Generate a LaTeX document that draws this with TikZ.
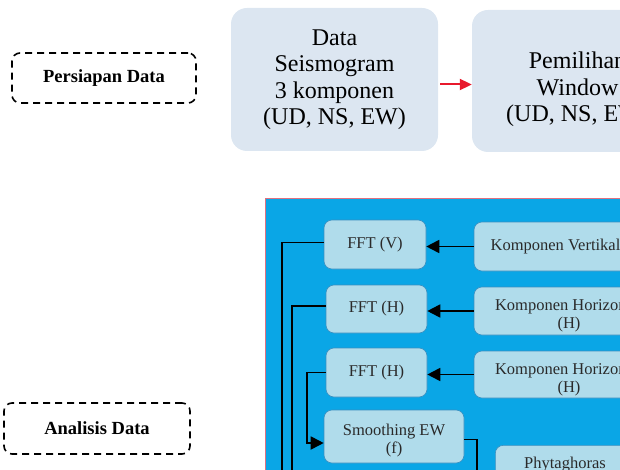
\documentclass[tikz,border=0pt]{standalone}
\usepackage{fontspec}
\setmainfont{Liberation Serif}
\usetikzlibrary{arrows.meta,calc}
\definecolor{softfill}{HTML}{DCE6F1}
\definecolor{bigblue}{HTML}{0AA6E6}
\definecolor{innerfill}{HTML}{B0DCEB}
\definecolor{innerline}{HTML}{3A8FC0}
\definecolor{bigline}{HTML}{E07080}
\definecolor{arrred}{HTML}{E8192C}
\definecolor{innertext}{HTML}{2A2A2A}
\newcommand\lowtext[2]{\raisebox{-#1}[\height][\depth]{\begin{tabular}{@{}c@{}}#2\end{tabular}}}
\begin{document}
\begin{tikzpicture}[x=1pt,y=-1pt,
  dashbox/.style={draw, line width=1.6pt, dash pattern=on 7pt off 5pt, rounded corners=8pt,
    inner sep=0pt, font=\fontsize{18.5}{20}\selectfont\bfseries},
  softbox/.style={fill=softfill, rounded corners=16pt, inner sep=0pt, align=center,
    font=\fontsize{24}{26.5}\selectfont},
  innerbox/.style={fill=innerfill, draw=innerline, line width=0.6pt, rounded corners=8pt,
    inner sep=0pt, align=center, text=innertext, font=\fontsize{16.5}{18}\selectfont},
  conn/.style={draw=black, line width=1.8pt},
  arr/.style={conn, -{Triangle[length=13pt,width=13pt]}},
  redarr/.style={draw=arrred, line width=2pt, -{Triangle[length=12pt,width=11pt]}}
]
\useasboundingbox (0,0) rectangle (620,470);
\clip (0,0) rectangle (620,470);

% upper row
\node[dashbox, minimum width=184pt, minimum height=50pt] (prep) at (104,78) {Persiapan Data};
\node[softbox, minimum width=207pt, minimum height=143pt] (data) at (334.5,79.5)
  {Data\\Seismogram\\3 komponen\\(UD, NS, EW)};
\node[softbox, minimum width=211pt, minimum height=142pt] (pem) at (577.5,81)
  {\lowtext{9pt}{Pemilihan\\Window\\(UD, NS, EW)}};
\coordinate (ra) at ($(data.east)+(2,5)$);
\draw[redarr] (ra) -- (ra -| pem.west);

% analysis frame
\node[dashbox, minimum width=186pt, minimum height=51pt] (anal) at (97,428.5) {Analisis Data};
\path[fill=bigblue, draw=bigline, line width=1pt] (265,199) rectangle (660,500);

\node[innerbox, minimum width=102pt, minimum height=49pt] (fftv) at (375,244.5) {FFT (V)};
\node[innerbox, minimum width=101pt, minimum height=48pt] (ffth1) at (376.5,309) {FFT (H)};
\node[innerbox, minimum width=101pt, minimum height=49pt] (ffth2) at (376.5,372.5) {FFT (H)};
\node[innerbox, minimum width=140pt, minimum height=53pt] (smooth) at (394,436.5) {\lowtext{4pt}{Smoothing EW\\(f)}};
\node[innerbox, minimum width=190pt, minimum height=49pt] (kv) at (569,246.5) {Komponen Vertikal (V)};
\node[innerbox, minimum width=190pt, minimum height=48pt] (kh1) at (569,311) {\lowtext{5pt}{Komponen Horizontal\\(H)}};
\node[innerbox, minimum width=190pt, minimum height=47pt] (kh2) at (569,374.5) {\lowtext{5pt}{Komponen Horizontal\\(H)}};
\node[innerbox, minimum width=140pt, minimum height=55pt, anchor=north west] (phy) at (495,445) {};
\node[anchor=base, text=innertext, font=\fontsize{16.5}{18}\selectfont] at (565,468) {Phytaghoras};

\coordinate (endA) at (282,480);
\coordinate (endB) at (292,480);
\coordinate (bendC) at (307,443);
\coordinate (endD) at (477,480);

\draw[arr] (kv.west) -- (kv.west -| fftv.east);
\draw[arr] (kh1.west) -- (kh1.west -| ffth1.east);
\draw[arr] (kh2.west) -- (kh2.west -| ffth2.east);

\draw[conn] ($(fftv.west)+(0,-2)$) -| (endA);
\draw[conn] ($(ffth1.west)+(0,-3)$) -| (endB);
\draw[arr] (ffth2.west) -| (bendC) -- (bendC -| smooth.west);
\draw[conn] ($(smooth.east)+(0,3)$) -| (endD);
\end{tikzpicture}
\end{document}
